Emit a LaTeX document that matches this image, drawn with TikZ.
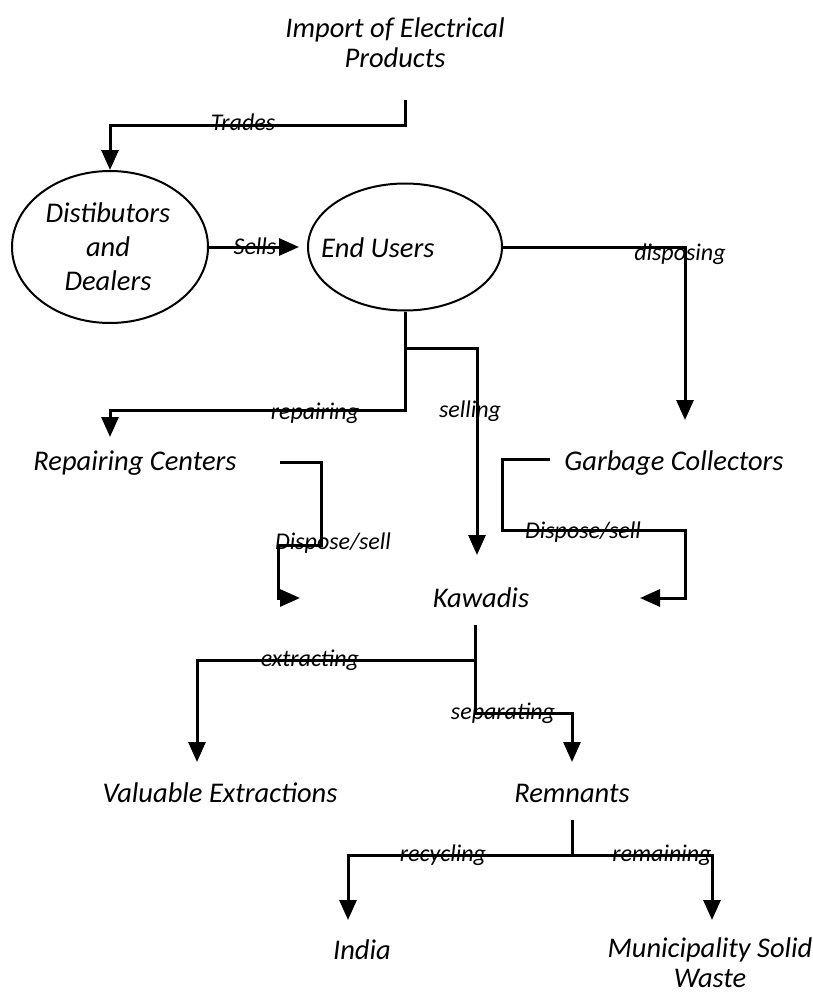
\documentclass[tikz,border=0pt]{standalone}
\usepackage{fontspec}
\setmainfont{Carlito}
\usetikzlibrary{arrows.meta,shapes.geometric}
\begin{document}
\begin{tikzpicture}[x=1pt,y=-1pt,
  txt/.style={font=\fontsize{28.5}{30}\selectfont\itshape, align=center, inner sep=0pt},
  elab/.style={font=\fontsize{24}{26}\selectfont\itshape, inner sep=0pt},
  conn/.style={line width=3pt},
  arr/.style={conn, -{Triangle[length=20pt,width=17pt]}},
  oval/.style={draw, ellipse, line width=2pt, inner sep=0pt}]
\useasboundingbox (0,0) rectangle (813,1001);

% nodes
\node[txt] (imp) at (395,43) {Import of Electrical\\Products};
\node[oval, minimum width=196pt, minimum height=152pt] (dd) at (110,247) {};
\node[txt, font=\fontsize{28.5}{34}\selectfont\itshape] (ddt) at (108,247) {Distibutors\\and\\Dealers};
\node[oval, minimum width=194pt, minimum height=127pt] (eu) at (405,247) {};
\node[txt, anchor=west] (eut) at (321,248) {End Users};
\node[txt] (rc) at (135,463) {Repairing Centers};
\node[txt] (gc) at (674,463) {Garbage Collectors};
\node[txt] (kw) at (481,598) {Kawadis};
\node[txt] (ve) at (220,793) {Valuable Extractions};
\node[txt] (rm) at (572,793) {Remnants};
\node[txt] (in) at (362,950) {India};
\node[txt, anchor=north] (ms) at (710,937) {Municipality Solid\\Waste};

% named coordinates
\coordinate (t0) at (405,100);
\coordinate (gcin) at (685,420);
\coordinate (rcin) at (110,437);
\coordinate (kwin) at (477,555);
\coordinate (j1) at (405,348);
\coordinate (rcout) at (280,462);
\coordinate (kwl) at (300,598);
\coordinate (gcout) at (550,459);
\coordinate (kwr) at (640,598);
\coordinate (k0) at (475,625);
\coordinate (k1) at (475,660);
\coordinate (vein) at (197,762);
\coordinate (rmin) at (572,762);
\coordinate (r0) at (572,820);
\coordinate (r1) at (572,855);
\coordinate (inin) at (348,920);
\coordinate (msin) at (712,920);

% connectors
\draw[arr] (t0) -- ++(0,25) -| (dd.north);
\node[elab] at (243,122) {Trades};

\draw[arr, shorten >=8pt] (dd.east) -- (dd.east -| eu.west);
\node[elab] at (255,246) {Sells};

\draw[arr] (eu.east) -| (gcin);
\node[elab] at (680,254) {disposing};

\draw[conn] (eu.south) -- (j1);
\draw[arr] (j1) -| (kwin);
\draw[arr] (j1) -- ++(0,62) -| (rcin);
\node[elab] at (315,413) {repairing};
\node[elab] at (470,411) {selling};

\draw[arr] (rcout) -- ++(41,0) -- ++(0,83) -- ++(-43,0) |- (kwl);
\node[elab] at (333,543) {Dispose/sell};

\draw[arr] (gcout) -- ++(-48,0) -- ++(0,71) -| ++(183,68) -- (kwr);
\node[elab] at (583,532) {Dispose/sell};

\draw[conn] (k0) -- (k1);
\draw[arr] (k1) -| (vein);
\draw[arr] (k1) -- ++(0,53) -| (rmin);
\node[elab] at (310,660) {extracting};
\node[elab] at (503,713) {separating};

\draw[conn] (r0) -- (r1);
\draw[arr] (r1) -| (inin);
\draw[arr] (r1) -| (msin);
\node[elab] at (443,855) {recycling};
\node[elab] at (662,855) {remaining};
\end{tikzpicture}
\end{document}
